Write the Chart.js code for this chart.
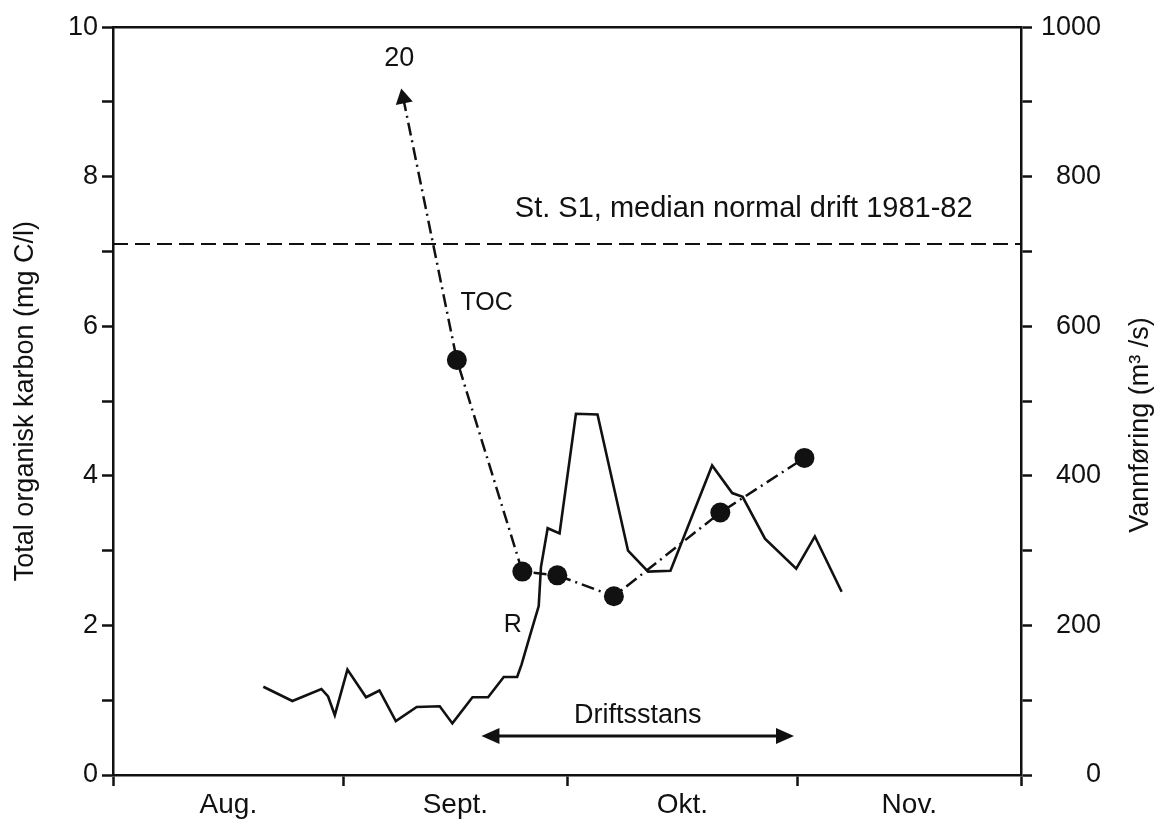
<!DOCTYPE html>
<html>
<head>
<meta charset="utf-8">
<title>TOC og vannføring</title>
<script src="https://cdn.jsdelivr.net/npm/chart.js@4.4.1/dist/chart.umd.min.js"></script>
<style>
    html, body { margin: 0; padding: 0; background: #fff; }
    #wrap { width: 1167px; height: 819px; }
</style>
</head>
<body>
<div id="wrap"><canvas id="tocChart" width="1167" height="819"></canvas></div>
<script>
// x = days counted from 1 Aug
const monthStarts = [0, 31, 61, 92, 122];
const monthLabels = ['Aug.', 'Sept.', 'Okt.', 'Nov.'];

// Vannføring R (m3/s)
const rDays = [20.2, 24.1, 28.0, 28.9, 29.8, 31.5, 34.0, 35.8, 38.0, 40.8, 43.9, 45.6,
               48.3, 50.4, 52.5, 54.3, 54.9, 56.1, 57.2, 57.5, 58.4, 60.0, 62.2, 65.1,
               69.2, 71.9, 74.9, 80.5, 83.2, 84.6, 87.6, 91.8, 94.3, 97.9];
const rValues = [118, 99, 115, 105, 80, 141, 104, 113, 72, 91, 92, 69,
                 104, 104, 131, 131, 148, 189, 226, 278, 330, 323, 483, 482,
                 300, 272, 273, 414, 377, 372, 316, 276, 319, 245];

// Total organisk karbon (mg C/l)
const tocDays = [39.0, 46.2, 55.0, 59.7, 67.3, 81.6, 92.9];
const tocValues = [20, 5.55, 2.72, 2.67, 2.39, 3.51, 4.24];

// St. S1 median, normal drift 1981-82
const medianToc = 7.1;

// Driftsstans (shutdown period, days)
const stopStart = 49.5;
const stopEnd = 91.5;

// axis ranges / tick steps
const leftMax = 10, leftStep = 1, leftLabelEvery = 2;
const rightMax = 1000, rightStep = 100, rightLabelEvery = 200;

const black = '#111';
const family = '"Liberation Sans", Arial, Helvetica, sans-serif';
const area = { left: 113, right: 1021, top: 27, bottom: 775 };
const rightLabelEdge = 1101;
const offScaleMark = 9.05;   // where a value above the axis is marked with an arrow

Chart.defaults.font.family = family;
Chart.defaults.color = black;

// month boundaries get tick marks, mid-month positions carry the labels
const xTickValues = [];
monthStarts.forEach((d, i) => {
    xTickValues.push(d);
    if (i < monthLabels.length) xTickValues.push((d + monthStarts[i + 1]) / 2);
});

const notes = [
    { text: 'TOC', x: 50.2, y: 6.31, axis: 'yL', size: 25, align: 'center' },
    { text: 'R', x: 53.7, y: 201, axis: 'yR', size: 25, align: 'center' },
    { text: 'St. S1, median normal drift 1981-82', x: 115.5, y: 7.57, axis: 'yL', size: 29, align: 'right' },
    { text: 'Driftsstans', x: 70.5, y: 0.79, axis: 'yL', size: 27, align: 'center' }
];

const annotations = {
    id: 'annotations',
    afterDatasetsDraw(chart) {
        const ctx = chart.ctx;
        const xs = chart.scales.x;
        ctx.save();
        ctx.fillStyle = black;
        ctx.strokeStyle = black;
        ctx.textBaseline = 'middle';

        notes.forEach(n => {
            ctx.font = n.size + 'px ' + family;
            ctx.textAlign = n.align;
            ctx.fillText(n.text, xs.getPixelForValue(n.x), chart.scales[n.axis].getPixelForValue(n.y));
        });

        // value printed above the off-scale arrow
        const meta = chart.getDatasetMeta(0);
        ctx.font = '27px ' + family;
        ctx.textAlign = 'center';
        tocValues.forEach((v, i) => {
            if (v > leftMax) {
                const el = meta.data[i];
                ctx.fillText(String(v), el.x - 4, el.y - 40);
            }
        });

        // Driftsstans double arrow
        const ay = chart.scales.yL.getPixelForValue(0.52);
        const x1 = xs.getPixelForValue(stopStart);
        const x2 = xs.getPixelForValue(stopEnd);
        const head = 18, half = 8;
        ctx.lineWidth = 3;
        ctx.beginPath();
        ctx.moveTo(x1 + head - 2, ay);
        ctx.lineTo(x2 - head + 2, ay);
        ctx.stroke();
        ctx.beginPath();
        ctx.moveTo(x1, ay);
        ctx.lineTo(x1 + head, ay - half);
        ctx.lineTo(x1 + head, ay + half);
        ctx.closePath();
        ctx.fill();
        ctx.beginPath();
        ctx.moveTo(x2, ay);
        ctx.lineTo(x2 - head, ay - half);
        ctx.lineTo(x2 - head, ay + half);
        ctx.closePath();
        ctx.fill();
        ctx.restore();
    },
    afterDraw(chart) {
        // right axis title reads bottom to top
        const ctx = chart.ctx;
        ctx.save();
        ctx.fillStyle = black;
        ctx.font = '27px ' + family;
        ctx.textAlign = 'center';
        ctx.textBaseline = 'middle';
        ctx.translate(1141, 425);
        ctx.rotate(-Math.PI / 2);
        ctx.fillText('Vannføring (m³ /s)', 0, 0);
        ctx.restore();
    }
};

const ctx = document.getElementById('tocChart').getContext('2d');
const plottedToc = tocValues.map(v => v > leftMax ? offScaleMark : v);

new Chart(ctx, {
    type: 'line',
    data: {
        datasets: [
            {
                label: 'TOC',
                yAxisID: 'yL',
                data: tocDays.map((d, i) => ({ x: d, y: plottedToc[i] })),
                borderColor: black,
                borderWidth: 2.5,
                borderDash: [13, 5, 2, 5],
                backgroundColor: black,
                pointBackgroundColor: black,
                pointBorderWidth: 0,
                pointRadius: 10,
                pointStyle: c => tocValues[c.dataIndex] > leftMax ? 'triangle' : 'circle',
                pointRotation: c => tocValues[c.dataIndex] > leftMax ? -11.6 : 0,
                order: 0
            },
            {
                label: 'R',
                yAxisID: 'yR',
                data: rDays.map((d, i) => ({ x: d, y: rValues[i] })),
                borderColor: black,
                borderWidth: 2.6,
                borderJoinStyle: 'miter',
                pointRadius: 0,
                order: 1
            },
            {
                label: 'median',
                yAxisID: 'yL',
                data: [{ x: monthStarts[0], y: medianToc }, { x: monthStarts[monthStarts.length - 1], y: medianToc }],
                borderColor: black,
                borderWidth: 2,
                borderDash: [15, 7],
                pointRadius: 0,
                order: 2
            }
        ]
    },
    options: {
        responsive: false,
        animation: false,
        events: [],
        layout: { padding: { left: 0, top: 0, bottom: 0, right: 1167 - rightLabelEdge }, autoPadding: false },
        plugins: {
            legend: { display: false },
            tooltip: { enabled: false }
        },
        scales: {
            x: {
                type: 'linear',
                position: 'bottom',
                min: monthStarts[0],
                max: monthStarts[monthStarts.length - 1],
                afterBuildTicks: s => { s.ticks = xTickValues.map(v => ({ value: v })); },
                afterFit: s => { s.height = 819 - area.bottom; },
                grid: {
                    drawOnChartArea: false,
                    tickLength: 11,
                    tickWidth: 2.5,
                    tickColor: c => (c.tick && monthStarts.includes(c.tick.value)) ? black : 'rgba(0,0,0,0)'
                },
                border: { display: true, color: black, width: 2.5 },
                ticks: {
                    autoSkip: false,
                    maxRotation: 0,
                    padding: 2,
                    font: { size: 28 },
                    color: black,
                    callback: v => {
                        const i = monthStarts.findIndex((d, k) => k < monthLabels.length && (d + monthStarts[k + 1]) / 2 === v);
                        return i >= 0 ? monthLabels[i] : '';
                    }
                }
            },
            xTop: {
                type: 'linear',
                axis: 'x',
                position: 'top',
                min: monthStarts[0],
                max: monthStarts[monthStarts.length - 1],
                afterFit: s => { s.height = area.top; },
                grid: { drawOnChartArea: false, drawTicks: false },
                border: { display: true, color: black, width: 2.5 },
                ticks: { display: false }
            },
            yL: {
                type: 'linear',
                position: 'left',
                min: 0,
                max: leftMax,
                afterFit: s => { s.width = area.left; },
                grid: { drawOnChartArea: false, tickLength: 11, tickWidth: 2.5, tickColor: black },
                border: { display: true, color: black, width: 2.5 },
                ticks: {
                    stepSize: leftStep,
                    autoSkip: false,
                    padding: 4,
                    font: { size: 27 },
                    color: black,
                    callback: v => v % leftLabelEvery === 0 ? v : ''
                },
                title: {
                    display: true,
                    text: 'Total organisk karbon (mg C/l)',
                    font: { size: 27 },
                    color: black,
                    padding: { top: 9, bottom: 0 }
                }
            },
            yR: {
                type: 'linear',
                position: 'right',
                min: 0,
                max: rightMax,
                afterFit: s => { s.width = rightLabelEdge - area.right; },
                grid: { drawOnChartArea: false, tickLength: 11, tickWidth: 2.5, tickColor: black },
                border: { display: true, color: black, width: 2.5 },
                ticks: {
                    stepSize: rightStep,
                    autoSkip: false,
                    padding: 11,
                    crossAlign: 'far',
                    font: { size: 27 },
                    color: black,
                    callback: v => v % rightLabelEvery === 0 ? v : ''
                }
            }
        }
    },
    plugins: [annotations]
});
</script>
</body>
</html>
